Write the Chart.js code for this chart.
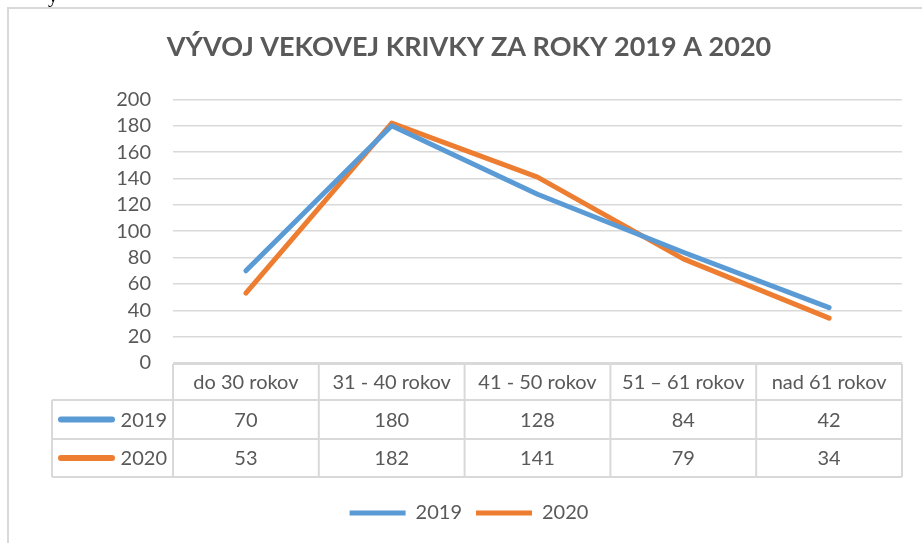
<!DOCTYPE html>
<html>
<head>
<meta charset="utf-8">
<script src="https://cdn.jsdelivr.net/npm/chart.js@4/dist/chart.umd.min.js"></script>
<style>
  html, body { margin: 0; padding: 0; background: #fff; overflow: hidden; }
  #wrap { position: relative; width: 922px; height: 543px; }
  #frag { position: absolute; left: 48px; top: -16px; font: 20px "Liberation Serif", serif; color: #000; }
</style>
</head>
<body>
<div id="wrap">
  <canvas id="chart" width="922" height="543"></canvas>
  <span id="frag">y</span>
</div>
<script>
let categories = ["do 30 rokov", "31 - 40 rokov", "41 - 50 rokov", "51 \u2013 61 rokov", "nad 61 rokov"];
let series2019 = [70, 180, 128, 84, 42];
let series2020 = [53, 182, 141, 79, 34];
let yTicks = [0, 20, 40, 60, 80, 100, 120, 140, 160, 180, 200];

let blue = "#5B9BD5";
let orange = "#ED7D31";
let textColor = "#595959";
let lineColor = "#d9d9d9";
let fontFamily = "Lato, 'Open Sans', sans-serif";

// frame + data table under the plot, positioned from the x scale
let tablePlugin = {
    id: "dataTable",
    beforeDraw(chart) {
        let ctx = chart.ctx;
        ctx.save();
        ctx.strokeStyle = lineColor;
        ctx.lineWidth = 2;
        ctx.beginPath();
        ctx.moveTo(8, 543);
        ctx.lineTo(8, 8);
        ctx.lineTo(922, 8);
        ctx.stroke();
        ctx.restore();
    },
    afterDraw(chart) {
        let ctx = chart.ctx;
        let x = chart.scales.x;
        let area = chart.chartArea;
        let step = x.getPixelForValue(1) - x.getPixelForValue(0);
        let left = area.left, right = area.right;
        let top = area.bottom + 1;
        let rowH = [36, 39, 38];
        let r1 = top + rowH[0], r2 = r1 + rowH[1], r3 = r2 + rowH[2];
        let legendLeft = 52;

        ctx.save();
        ctx.strokeStyle = lineColor;
        ctx.lineWidth = 2;
        ctx.beginPath();
        ctx.moveTo(left, top); ctx.lineTo(right, top);
        [r1, r2, r3].forEach(y => { ctx.moveTo(legendLeft, y); ctx.lineTo(right, y); });
        ctx.moveTo(legendLeft, r1); ctx.lineTo(legendLeft, r3);
        for (let i = 0; i <= categories.length; i++) {
            let px = x.getPixelForValue(i) - step / 2;
            ctx.moveTo(px, top); ctx.lineTo(px, r3);
        }
        ctx.stroke();

        let rows = [
            { label: "2019", color: blue, values: series2019, y: (r1 + r2) / 2 },
            { label: "2020", color: orange, values: series2020, y: (r2 + r3) / 2 }
        ];
        ctx.font = "20px " + fontFamily;
        ctx.fillStyle = textColor;
        ctx.textBaseline = "middle";
        rows.forEach(row => {
            ctx.strokeStyle = row.color;
            ctx.lineWidth = 6;
            ctx.lineCap = "round";
            ctx.beginPath();
            ctx.moveTo(61, row.y); ctx.lineTo(112, row.y);
            ctx.stroke();
            ctx.textAlign = "right";
            ctx.fillText(row.label, left - 6, row.y + 1);
            ctx.textAlign = "center";
            row.values.forEach((v, i) => {
                ctx.fillText(String(v), x.getPixelForValue(i), row.y + 1);
            });
        });
        ctx.restore();
    }
};

new Chart(document.getElementById("chart"), {
    type: "line",
    data: {
        labels: categories,
        datasets: [
            {
                label: "2019",
                data: series2019,
                borderColor: blue,
                backgroundColor: blue,
                borderWidth: 5,
                borderCapStyle: "round",
                borderJoinStyle: "round",
                pointRadius: 0,
                tension: 0
            },
            {
                label: "2020",
                data: series2020,
                borderColor: orange,
                backgroundColor: orange,
                borderWidth: 5,
                borderCapStyle: "round",
                borderJoinStyle: "round",
                pointRadius: 0,
                tension: 0
            }
        ]
    },
    options: {
        responsive: false,
        animation: false,
        layout: {
            padding: { left: 36, right: 20, top: 0, bottom: 10 }
        },
        scales: {
            x: {
                offset: true,
                grid: { display: false, drawTicks: false },
                border: { display: false },
                ticks: {
                    color: textColor,
                    font: { family: fontFamily, size: 20 },
                    padding: 8,
                    maxRotation: 0,
                    autoSkip: false
                },
                afterFit(scale) { scale.height = 126; }
            },
            y: {
                min: 0,
                max: 200,
                afterBuildTicks(scale) { scale.ticks = yTicks.map(v => ({ value: v })); },
                grid: { color: lineColor, lineWidth: 1.5, drawTicks: false },
                border: { display: false },
                ticks: {
                    color: textColor,
                    font: { family: fontFamily, size: 20 },
                    padding: 22,
                    autoSkip: false
                },
                afterFit(scale) { scale.width = 137; }
            }
        },
        plugins: {
            title: {
                display: true,
                text: "V\u00DDVOJ VEKOVEJ KRIVKY ZA ROKY 2019 A 2020",
                color: textColor,
                font: { family: fontFamily, size: 27, weight: "bold" },
                padding: { top: 31, bottom: 36 }
            },
            legend: {
                position: "bottom",
                labels: {
                    usePointStyle: true,
                    pointStyle: "line",
                    pointStyleWidth: 56,
                    color: textColor,
                    font: { family: fontFamily, size: 20 },
                    padding: 14
                }
            },
            tooltip: { enabled: false }
        }
    },
    plugins: [tablePlugin]
});
</script>
</body>
</html>
